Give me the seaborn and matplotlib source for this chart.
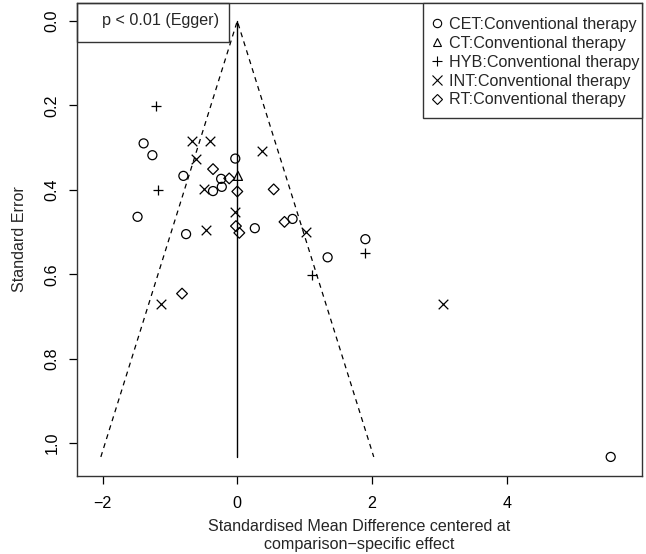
import matplotlib
matplotlib.use('Agg')
import matplotlib.pyplot as plt
from matplotlib.lines import Line2D
from matplotlib.patches import Rectangle
import numpy as np
import seaborn as sb

# centred effect (x) and standard error (y) per comparison
cetX = [-1.39, -1.26, -0.03, -0.80, -0.24, -0.36, -0.23, -1.48, -0.76, 0.26, 0.82, 1.34, 1.90, 5.54]
cetSE = [0.290, 0.318, 0.326, 0.367, 0.374, 0.403, 0.393, 0.464, 0.505, 0.491, 0.469, 0.560, 0.517, 1.033]
ctX = [0.01]
ctSE = [0.367]
hybX = [-1.20, -1.18, 1.89, 1.11]
hybSE = [0.201, 0.400, 0.550, 0.602]
intX = [-0.67, -0.41, -0.61, 0.37, -0.49, -0.03, -0.47, 1.02, -1.13, 3.05]
intSE = [0.284, 0.284, 0.327, 0.309, 0.399, 0.452, 0.495, 0.500, 0.671, 0.671]
rtX = [-0.36, -0.12, 0.00, -0.02, 0.03, 0.54, 0.70, -0.82]
rtSE = [0.351, 0.373, 0.404, 0.486, 0.502, 0.399, 0.476, 0.646]

groupNames = ['CET:Conventional therapy', 'CT:Conventional therapy', 'HYB:Conventional therapy',
              'INT:Conventional therapy', 'RT:Conventional therapy']
eggerText = 'p < 0.01 (Egger)'

sb.set_style('ticks')
plt.rcParams['font.family'] = ['Liberation Sans', 'DejaVu Sans']
fs = 11.6

W, H = 646, 554
axLeft, axRight, axTop, axBottom = 77, 642, 3, 476
fig = plt.figure(figsize=(W / 100, H / 100), dpi=100)
ax = fig.add_axes([axLeft / W, 1 - axBottom / H, (axRight - axLeft) / W, (axBottom - axTop) / H])
axW, axH = axRight - axLeft, axBottom - axTop

groups = [(cetX, cetSE, 'o'), (ctX, ctSE, '^'), (hybX, hybSE, '+'), (intX, intSE, 'x'), (rtX, rtSE, 'D')]
handles = []
for (gx, gse, mk), name in zip(groups, groupNames):
    if mk in ['+', 'x']:
        sb.scatterplot(x=gx, y=gse, ax=ax, marker=mk, color='black', s=48, linewidth=0.9, zorder=3)
        handles.append(Line2D([], [], ls='', marker=mk, color='black', markersize=6.5, markeredgewidth=0.8, label=name))
    else:
        msize = {'o': 42, '^': 42, 'D': 30}[mk]
        sb.scatterplot(x=gx, y=gse, ax=ax, marker=mk, facecolor='none', edgecolor='black', s=msize, linewidth=0.9, zorder=3)
        handles.append(Line2D([], [], ls='', marker=mk, markerfacecolor='none', markeredgecolor='black',
                              markersize=5 if mk == 'D' else 6, markeredgewidth=0.8, label=name))

# funnel
maxSE = max(cetSE + ctSE + hybSE + intSE + rtSE)
ax.plot([-1.96 * maxSE, 0, 1.96 * maxSE], [maxSE, 0, maxSE], color='black', lw=0.9, ls=(0, (4, 3.5)))
ax.plot([0, 0], [0, maxSE], color='black', lw=1.0)

xPerUnit = 67.4
yPerUnit = 422
ax.set_xlim((axLeft - 237.3) / xPerUnit, (axRight - 237.3) / xPerUnit)
ax.set_ylim((axBottom - 21) / yPerUnit, (axTop - 21) / yPerUnit)
ax.set_xticks([-2, 0, 2, 4])
ax.set_xticklabels(['\u22122', '0', '2', '4'])
ax.set_yticks([0.0, 0.2, 0.4, 0.6, 0.8, 1.0])
ax.set_yticklabels(['0.0', '0.2', '0.4', '0.6', '0.8', '1.0'], rotation=90, va='center')
ax.tick_params(direction='out', length=5.5, width=0.9, colors='black', labelsize=fs)
ax.tick_params(axis='x', pad=9)
ax.tick_params(axis='y', pad=7)
for sp in ax.spines.values():
    sp.set_visible(True)
    sp.set_color('#333333')
    sp.set_linewidth(1.0)
ax.set_xlabel('Standardised Mean Difference centered at\ncomparison\u2212specific effect', fontsize=fs, labelpad=6,
              linespacing=1.2)
ax.set_ylabel('Standard Error', fontsize=fs, labelpad=13)

# Egger box in the top-left corner
ax.add_patch(Rectangle((0, 1 - (42 - axTop) / axH), (229 - axLeft) / axW, (42 - axTop) / axH,
                       transform=ax.transAxes, fill=False, edgecolor='#333333', lw=1.0, clip_on=False, zorder=4))
ax.text((161 - axLeft) / axW, 1 - (21 - axTop) / axH, eggerText, transform=ax.transAxes,
        ha='center', va='center', fontsize=fs)

# legend box (R style: tight on the right)
ax.add_patch(Rectangle(((423 - axLeft) / axW, 1 - (118 - axTop) / axH), (axRight - 423) / axW, (118 - axTop) / axH,
                       transform=ax.transAxes, fill=True, facecolor='white', edgecolor='#333333', lw=1.0,
                       clip_on=False, zorder=4))
leg = ax.legend(handles=handles, loc='upper left', bbox_to_anchor=((431 - axLeft) / axW, 1 - (17 - axTop) / axH),
                borderaxespad=0, frameon=False, fontsize=fs,
                handlelength=0.7, handletextpad=0.4, labelspacing=0.24, borderpad=0)
leg.set_zorder(5)

fig.savefig('out.png', dpi=100)
